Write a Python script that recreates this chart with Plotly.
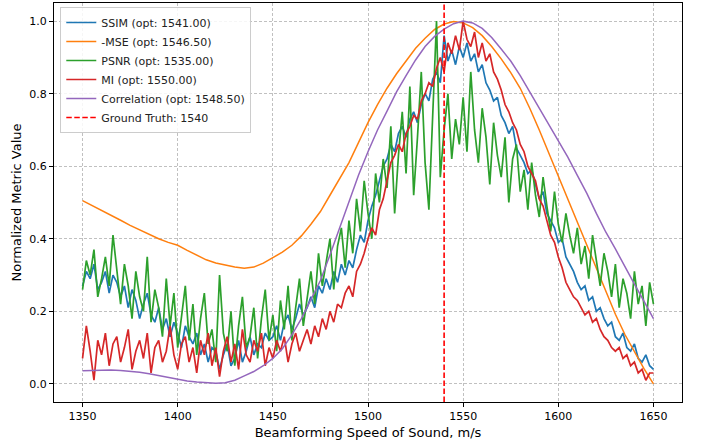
import plotly.graph_objects as go

# ---------------- data ----------------
x_smooth = list(range(1350, 1651, 5))
x_noisy = list(range(1350, 1651, 2))

mse = [0.505, 0.492, 0.478, 0.465, 0.451, 0.437, 0.424, 0.412, 0.400, 0.390,
       0.382, 0.368, 0.355, 0.342, 0.333, 0.327, 0.322, 0.319, 0.322, 0.333,
       0.347, 0.363, 0.382, 0.408, 0.440, 0.475, 0.520, 0.565, 0.610, 0.665,
       0.720, 0.770, 0.815, 0.855, 0.890, 0.925, 0.953, 0.977, 0.992, 0.999,
       0.995, 0.982, 0.960, 0.930, 0.896, 0.858, 0.815, 0.760, 0.700, 0.636,
       0.572, 0.510, 0.448, 0.380, 0.315, 0.252, 0.192, 0.136, 0.088, 0.042,
       0.000]

corr = [0.036, 0.037, 0.038, 0.038, 0.037, 0.035, 0.032, 0.028, 0.023, 0.017,
        0.012, 0.008, 0.005, 0.003, 0.002, 0.003, 0.010, 0.022, 0.034, 0.050,
        0.070, 0.097, 0.135, 0.180, 0.232, 0.285, 0.355, 0.430, 0.500, 0.575,
        0.640, 0.700, 0.752, 0.805, 0.850, 0.893, 0.930, 0.958, 0.978, 0.993,
        1.000, 0.995, 0.980, 0.955, 0.923, 0.890, 0.850, 0.805, 0.760, 0.715,
        0.670, 0.625, 0.575, 0.525, 0.470, 0.418, 0.372, 0.322, 0.275, 0.228,
        0.180]

ssim = [0.27, 0.31, 0.29, 0.33, 0.26, 0.28, 0.31, 0.25, 0.30, 0.28,
        0.24, 0.27, 0.21, 0.26, 0.23, 0.18, 0.22, 0.25, 0.19, 0.17,
        0.21, 0.15, 0.18, 0.13, 0.17, 0.14, 0.10, 0.16, 0.13, 0.11,
        0.14, 0.08, 0.11, 0.06, 0.10, 0.09, 0.04, 0.08, 0.11, 0.05,
        0.07, 0.12, 0.06, 0.09, 0.13, 0.08, 0.11, 0.10, 0.14, 0.12,
        0.13, 0.16, 0.12, 0.17, 0.19, 0.15, 0.18, 0.22, 0.19, 0.21,
        0.24, 0.21, 0.27, 0.25, 0.29, 0.26, 0.31, 0.28, 0.33, 0.30,
        0.34, 0.32, 0.37, 0.41, 0.39, 0.45, 0.49, 0.52, 0.56, 0.60,
        0.62, 0.66, 0.64, 0.69, 0.71, 0.68, 0.73, 0.75, 0.72, 0.77,
        0.80, 0.78, 0.84, 0.86, 0.83, 0.96, 0.89, 0.92, 0.88, 0.93,
        0.90, 0.94, 0.89, 0.91, 0.86, 0.88, 0.83, 0.81, 0.78, 0.79,
        0.74, 0.72, 0.69, 0.71, 0.65, 0.63, 0.61, 0.58, 0.59, 0.55,
        0.51, 0.53, 0.47, 0.45, 0.43, 0.39, 0.40, 0.35, 0.33, 0.31,
        0.28, 0.26, 0.27, 0.23, 0.24, 0.20, 0.21, 0.18, 0.16, 0.17,
        0.13, 0.12, 0.14, 0.10, 0.09, 0.11, 0.07, 0.06, 0.08, 0.05,
        0.04]

psnr = [0.26, 0.34, 0.30, 0.37, 0.24, 0.29, 0.35, 0.27, 0.41, 0.31,
        0.22, 0.33, 0.27, 0.18, 0.31, 0.24, 0.20, 0.35, 0.17, 0.26,
        0.21, 0.13, 0.29, 0.16, 0.25, 0.10, 0.19, 0.27, 0.12, 0.22,
        0.08, 0.18, 0.25, 0.11, 0.15, 0.06, 0.30, 0.14, 0.09, 0.20,
        0.05, 0.16, 0.24, 0.10, 0.13, 0.21, 0.07, 0.18, 0.26, 0.12,
        0.19, 0.09, 0.23, 0.15, 0.27, 0.12, 0.21, 0.29, 0.16, 0.24,
        0.31, 0.22, 0.36, 0.27, 0.33, 0.40, 0.26, 0.38, 0.43, 0.32,
        0.45, 0.36, 0.51, 0.42, 0.56, 0.47, 0.40, 0.58, 0.50, 0.62,
        0.54, 0.71, 0.47, 0.63, 0.75, 0.58, 0.82, 0.52, 0.68, 0.86,
        0.61, 0.48, 0.74, 1.00, 0.57, 0.70, 0.80, 0.62, 0.73, 0.66,
        0.79, 0.64, 0.86, 0.70, 0.61, 0.76, 0.68, 0.55, 0.72, 0.63,
        0.57, 0.68, 0.50, 0.62, 0.66, 0.53, 0.59, 0.48, 0.61, 0.52,
        0.46, 0.57, 0.49, 0.42, 0.53, 0.44, 0.39, 0.47, 0.41, 0.36,
        0.43, 0.33, 0.38, 0.29, 0.41, 0.34, 0.27, 0.36, 0.31, 0.24,
        0.33, 0.21, 0.29, 0.25, 0.18, 0.31, 0.22, 0.27, 0.16, 0.28,
        0.22]

mi = [0.07, 0.16, 0.09, 0.01, 0.12, 0.08, 0.14, 0.05, 0.11, 0.13,
      0.06, 0.10, 0.15, 0.04, 0.09, 0.12, 0.07, 0.14, 0.03, 0.10,
      0.12, 0.06, 0.09, 0.16, 0.08, 0.04, 0.11, 0.13, 0.06, 0.10,
      0.03, 0.12, 0.08, 0.14, 0.05, 0.10, 0.02, 0.09, 0.13, 0.06,
      0.11, 0.04, 0.15, 0.08, 0.06, 0.12, 0.09, 0.14, 0.05, 0.10,
      0.07, 0.12, 0.09, 0.13, 0.06, 0.11, 0.14, 0.09, 0.12, 0.15,
      0.11, 0.16, 0.13, 0.18, 0.15, 0.20, 0.17, 0.22, 0.21, 0.25,
      0.27, 0.24, 0.31, 0.33, 0.36, 0.40, 0.43, 0.41, 0.48, 0.51,
      0.56, 0.61, 0.63, 0.66, 0.64, 0.69, 0.71, 0.74, 0.73, 0.78,
      0.80, 0.83, 0.82, 0.87, 0.90, 0.86, 0.94, 0.91, 0.96, 0.92,
      1.00, 0.95, 0.93, 0.97, 0.90, 0.94, 0.89, 0.91, 0.86, 0.84,
      0.81, 0.77, 0.75, 0.72, 0.70, 0.66, 0.64, 0.60, 0.58, 0.56,
      0.51, 0.49, 0.45, 0.41, 0.39, 0.35, 0.32, 0.28, 0.26, 0.24,
      0.23, 0.21, 0.19, 0.20, 0.17, 0.18, 0.15, 0.13, 0.12, 0.10,
      0.09, 0.10, 0.07, 0.08, 0.05, 0.06, 0.03, 0.04, 0.01, 0.03,
      0.03]

ground_truth = 1540
opt = {"SSIM": "1541.00", "-MSE": "1546.50", "PSNR": "1535.00",
       "MI": "1550.00", "Correlation": "1548.50"}
x_ticks = [1350, 1400, 1450, 1500, 1550, 1600, 1650]
y_ticks = [0.0, 0.2, 0.4, 0.6, 0.8, 1.0]
y_range = [-0.05, 1.05]
x_range = [1335, 1665]

# ---------------- figure ----------------
font_family = "DejaVu Sans"
fig = go.Figure()

series = [
    ("SSIM", x_noisy, ssim, "#1f77b4", 1.7),
    ("-MSE", x_smooth, mse, "#ff7f0e", 1.5),
    ("PSNR", x_noisy, psnr, "#2ca02c", 1.7),
    ("MI", x_noisy, mi, "#d62728", 1.7),
    ("Correlation", x_smooth, corr, "#9467bd", 1.5),
]
for name, xs, ys, col, w in series:
    fig.add_trace(go.Scatter(
        x=xs, y=ys, mode="lines",
        name=f"{name} (opt: {opt[name]})",
        line=dict(color=col, width=w),
    ))

fig.add_trace(go.Scatter(
    x=[ground_truth, ground_truth], y=y_range, mode="lines",
    name=f"Ground Truth: {ground_truth}",
    line=dict(color="#ff0000", width=1.6, dash="5.5px,2.5px"),
))

axis_common = dict(
    showline=True, linecolor="black", linewidth=1, mirror=True,
    ticks="outside", ticklen=4, tickcolor="black", tickwidth=1,
    showgrid=True, gridcolor="rgba(176,176,176,0.8)", griddash="3px,2px",
    gridwidth=1, zeroline=False,
    tickfont=dict(family=font_family, size=11, color="black"),
)

fig.update_xaxes(
    range=x_range, tickvals=x_ticks, ticktext=[str(v) for v in x_ticks],
    title=dict(text="Beamforming Speed of Sound, m/s",
               font=dict(family=font_family, size=13, color="black"),
               standoff=5),
    **axis_common,
)
fig.update_yaxes(
    range=y_range, tickvals=y_ticks, ticktext=[f"{v:.1f}" for v in y_ticks],
    title=dict(text="Normalized Metric Value",
               font=dict(family=font_family, size=13, color="black"),
               standoff=4),
    **axis_common,
)

fig.update_layout(
    width=702, height=445,
    margin=dict(l=54, r=20, t=3, b=43),
    paper_bgcolor="white", plot_bgcolor="white",
    font=dict(family=font_family, size=11, color="black"),
    legend=dict(
        x=0.01, y=0.99, xanchor="left", yanchor="top",
        bgcolor="rgba(255,255,255,0.85)", bordercolor="#cccccc", borderwidth=1,
        font=dict(family=font_family, size=11, color="#222222"),
        tracegroupgap=0, itemwidth=30,
    ),
    showlegend=True,
)

fig.write_html("out.html")
